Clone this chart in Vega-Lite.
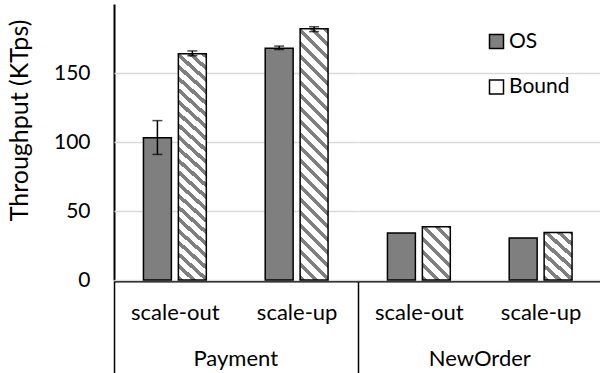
{
  "$schema": "https://vega.github.io/schema/vega-lite/v6.json",
  "padding": {"left": 7, "top": 4, "right": 0, "bottom": 0},
  "data": {
    "values": [
      {"group": "Payment", "sub": "scale-out", "series": "OS", "v": 103, "lo": 91, "hi": 115.5},
      {"group": "Payment", "sub": "scale-out", "series": "Bound", "v": 164, "lo": 162.5, "hi": 166},
      {"group": "Payment", "sub": "scale-up", "series": "OS", "v": 168, "lo": 167, "hi": 169.5},
      {"group": "Payment", "sub": "scale-up", "series": "Bound", "v": 182, "lo": 180, "hi": 183.5},
      {"group": "NewOrder", "sub": "scale-out", "series": "OS", "v": 34},
      {"group": "NewOrder", "sub": "scale-out", "series": "Bound", "v": 38.5},
      {"group": "NewOrder", "sub": "scale-up", "series": "OS", "v": 30.5},
      {"group": "NewOrder", "sub": "scale-up", "series": "Bound", "v": 34.5}
    ]
  },
  "facet": {
    "column": {
      "field": "group",
      "type": "nominal",
      "sort": ["Payment", "NewOrder"],
      "header": {
        "title": null,
        "labelOrient": "bottom",
        "labelFont": "Lato",
        "labelFontSize": 22,
        "labelColor": "black",
        "labelPadding": -25
      }
    }
  },
  "spacing": 0,
  "spec": {
    "width": 243.5,
    "height": 276,
    "encoding": {
      "x": {
        "field": "sub",
        "type": "nominal",
        "sort": ["scale-out", "scale-up"],
        "scale": {"paddingInner": 0, "paddingOuter": 0},
        "axis": {
          "title": null,
          "labelAngle": 0,
          "labelFontSize": 22,
          "domainColor": "black",
          "domainWidth": 2,
          "ticks": true,
          "tickBand": "extent",
          "tickSize": 92,
          "tickColor": "black",
          "tickWidth": 1.5,
          "tickOpacity": {"condition": {"test": "datum.value === 'scale-out' || datum.value === 'scale-up'", "value": 0}, "value": 1},
          "labelPadding": -71
        }
      },
      "xOffset": {
        "field": "series",
        "type": "nominal",
        "sort": ["OS", "Bound"],
        "scale": {"paddingInner": 0.2, "paddingOuter": 0.843}
      }
    },
    "layer": [
      {
        "mark": {"type": "bar", "stroke": "black", "strokeWidth": 1.5},
        "encoding": {
          "y": {
            "field": "v",
            "type": "quantitative",
            "title": "Throughput (KTps)",
            "scale": {"domain": [0, 190]},
            "axis": {
              "values": [0, 50, 100, 150],
              "grid": true,
              "gridColor": "#d9d9d9",
              "gridWidth": 1.3,
              "domainColor": "black",
              "domainWidth": 2,
              "ticks": false,
              "labelFontSize": 21,
              "labelPadding": 24,
              "titleFontSize": 25,
              "titlePadding": 21,
              "titleY": 116
            }
          },
          "fill": {
            "field": "series",
            "type": "nominal",
            "scale": {"domain": ["OS", "Bound"], "range": ["#7f7f7f", "#ffffff"]},
            "condition": [
              {
                "test": "datum.series === 'Bound' && datum.v > 100",
                "value": {
                  "gradient": "linear", "x1": 0, "y1": 1, "x2": 0.1225, "y2": -0.0979,
                  "stops": [
                    {"offset": 0, "color": "#7f7f7f"}, {"offset": 0.0197, "color": "#7f7f7f"}, {"offset": 0.0197, "color": "#ffffff"}, {"offset": 0.0466, "color": "#ffffff"},
                    {"offset": 0.0466, "color": "#7f7f7f"}, {"offset": 0.0663, "color": "#7f7f7f"}, {"offset": 0.0663, "color": "#ffffff"}, {"offset": 0.0932, "color": "#ffffff"},
                    {"offset": 0.0932, "color": "#7f7f7f"}, {"offset": 0.1129, "color": "#7f7f7f"}, {"offset": 0.1129, "color": "#ffffff"}, {"offset": 0.1398, "color": "#ffffff"},
                    {"offset": 0.1398, "color": "#7f7f7f"}, {"offset": 0.1595, "color": "#7f7f7f"}, {"offset": 0.1595, "color": "#ffffff"}, {"offset": 0.1864, "color": "#ffffff"},
                    {"offset": 0.1864, "color": "#7f7f7f"}, {"offset": 0.2061, "color": "#7f7f7f"}, {"offset": 0.2061, "color": "#ffffff"}, {"offset": 0.2330, "color": "#ffffff"},
                    {"offset": 0.2330, "color": "#7f7f7f"}, {"offset": 0.2527, "color": "#7f7f7f"}, {"offset": 0.2527, "color": "#ffffff"}, {"offset": 0.2796, "color": "#ffffff"},
                    {"offset": 0.2796, "color": "#7f7f7f"}, {"offset": 0.2993, "color": "#7f7f7f"}, {"offset": 0.2993, "color": "#ffffff"}, {"offset": 0.3262, "color": "#ffffff"},
                    {"offset": 0.3262, "color": "#7f7f7f"}, {"offset": 0.3459, "color": "#7f7f7f"}, {"offset": 0.3459, "color": "#ffffff"}, {"offset": 0.3728, "color": "#ffffff"},
                    {"offset": 0.3728, "color": "#7f7f7f"}, {"offset": 0.3925, "color": "#7f7f7f"}, {"offset": 0.3925, "color": "#ffffff"}, {"offset": 0.4194, "color": "#ffffff"},
                    {"offset": 0.4194, "color": "#7f7f7f"}, {"offset": 0.4391, "color": "#7f7f7f"}, {"offset": 0.4391, "color": "#ffffff"}, {"offset": 0.4660, "color": "#ffffff"},
                    {"offset": 0.4660, "color": "#7f7f7f"}, {"offset": 0.4857, "color": "#7f7f7f"}, {"offset": 0.4857, "color": "#ffffff"}, {"offset": 0.5125, "color": "#ffffff"},
                    {"offset": 0.5125, "color": "#7f7f7f"}, {"offset": 0.5323, "color": "#7f7f7f"}, {"offset": 0.5323, "color": "#ffffff"}, {"offset": 0.5591, "color": "#ffffff"},
                    {"offset": 0.5591, "color": "#7f7f7f"}, {"offset": 0.5789, "color": "#7f7f7f"}, {"offset": 0.5789, "color": "#ffffff"}, {"offset": 0.6057, "color": "#ffffff"},
                    {"offset": 0.6057, "color": "#7f7f7f"}, {"offset": 0.6254, "color": "#7f7f7f"}, {"offset": 0.6254, "color": "#ffffff"}, {"offset": 0.6523, "color": "#ffffff"},
                    {"offset": 0.6523, "color": "#7f7f7f"}, {"offset": 0.6720, "color": "#7f7f7f"}, {"offset": 0.6720, "color": "#ffffff"}, {"offset": 0.6989, "color": "#ffffff"},
                    {"offset": 0.6989, "color": "#7f7f7f"}, {"offset": 0.7186, "color": "#7f7f7f"}, {"offset": 0.7186, "color": "#ffffff"}, {"offset": 0.7455, "color": "#ffffff"},
                    {"offset": 0.7455, "color": "#7f7f7f"}, {"offset": 0.7652, "color": "#7f7f7f"}, {"offset": 0.7652, "color": "#ffffff"}, {"offset": 0.7921, "color": "#ffffff"},
                    {"offset": 0.7921, "color": "#7f7f7f"}, {"offset": 0.8118, "color": "#7f7f7f"}, {"offset": 0.8118, "color": "#ffffff"}, {"offset": 0.8387, "color": "#ffffff"},
                    {"offset": 0.8387, "color": "#7f7f7f"}, {"offset": 0.8584, "color": "#7f7f7f"}, {"offset": 0.8584, "color": "#ffffff"}, {"offset": 0.8853, "color": "#ffffff"},
                    {"offset": 0.8853, "color": "#7f7f7f"}, {"offset": 0.9050, "color": "#7f7f7f"}, {"offset": 0.9050, "color": "#ffffff"}, {"offset": 0.9319, "color": "#ffffff"},
                    {"offset": 0.9319, "color": "#7f7f7f"}, {"offset": 0.9516, "color": "#7f7f7f"}, {"offset": 0.9516, "color": "#ffffff"}, {"offset": 0.9785, "color": "#ffffff"},
                    {"offset": 0.9785, "color": "#7f7f7f"}, {"offset": 0.9982, "color": "#7f7f7f"}, {"offset": 0.9982, "color": "#ffffff"}, {"offset": 1, "color": "#ffffff"}
                  ]
                }
              },
              {
                "test": "datum.series === 'Bound'",
                "value": {
                  "gradient": "linear", "x1": 0, "y1": 1, "x2": 0.6312, "y2": -0.1948,
                  "stops": [
                    {"offset": 0, "color": "#7f7f7f"}, {"offset": 0.0679, "color": "#7f7f7f"}, {"offset": 0.0679, "color": "#ffffff"}, {"offset": 0.1605, "color": "#ffffff"},
                    {"offset": 0.1605, "color": "#7f7f7f"}, {"offset": 0.2284, "color": "#7f7f7f"}, {"offset": 0.2284, "color": "#ffffff"}, {"offset": 0.3210, "color": "#ffffff"},
                    {"offset": 0.3210, "color": "#7f7f7f"}, {"offset": 0.3889, "color": "#7f7f7f"}, {"offset": 0.3889, "color": "#ffffff"}, {"offset": 0.4815, "color": "#ffffff"},
                    {"offset": 0.4815, "color": "#7f7f7f"}, {"offset": 0.5494, "color": "#7f7f7f"}, {"offset": 0.5494, "color": "#ffffff"}, {"offset": 0.6420, "color": "#ffffff"},
                    {"offset": 0.6420, "color": "#7f7f7f"}, {"offset": 0.7099, "color": "#7f7f7f"}, {"offset": 0.7099, "color": "#ffffff"}, {"offset": 0.8025, "color": "#ffffff"},
                    {"offset": 0.8025, "color": "#7f7f7f"}, {"offset": 0.8704, "color": "#7f7f7f"}, {"offset": 0.8704, "color": "#ffffff"}, {"offset": 0.9630, "color": "#ffffff"},
                    {"offset": 0.9630, "color": "#7f7f7f"}, {"offset": 1, "color": "#7f7f7f"}
                  ]
                }
              }
            ],
            "legend": {
              "title": null,
              "orient": "none",
              "legendX": 372,
              "legendY": 27,
              "symbolType": "square",
              "symbolSize": 196,
              "symbolStrokeColor": "black",
              "symbolStrokeWidth": 1.5,
              "symbolOpacity": 1,
              "labelFont": "Lato",
              "labelFontSize": 21,
              "labelColor": "black",
              "labelOffset": 2,
              "rowPadding": 23.5,
              "encode": {
                "symbols": {
                  "update": {
                    "stroke": {"value": "black"},
                    "strokeWidth": {"value": 1.5},
                    "fill": [
                      {
                        "test": "datum.value === 'Bound'",
                        "value": {
                          "gradient": "linear", "x1": 0, "y1": 1, "x2": 1, "y2": 0,
                          "stops": [
                            {"offset": 0, "color": "#ffffff"}, {"offset": 0.32, "color": "#ffffff"}, {"offset": 0.32, "color": "#7f7f7f"},
                            {"offset": 0.62, "color": "#7f7f7f"}, {"offset": 0.62, "color": "#ffffff"}, {"offset": 1, "color": "#ffffff"}
                          ]
                        }
                      },
                      {"value": "#7f7f7f"}
                    ]
                  }
                }
              }
            }
          }
        }
      },
      {
        "transform": [{"filter": "isValid(datum.lo)"}],
        "mark": {"type": "rule", "color": "black", "strokeWidth": 1.5},
        "encoding": {
          "y": {"field": "lo", "type": "quantitative", "title": "Throughput (KTps)"},
          "y2": {"field": "hi"}
        }
      },
      {
        "transform": [{"filter": "isValid(datum.hi)"}],
        "mark": {"type": "tick", "orient": "horizontal", "size": 10, "thickness": 1.5, "color": "black"},
        "encoding": {
          "y": {"field": "hi", "type": "quantitative", "title": "Throughput (KTps)"}
        }
      },
      {
        "transform": [{"filter": "isValid(datum.lo)"}],
        "mark": {"type": "tick", "orient": "horizontal", "size": 10, "thickness": 1.5, "color": "black"},
        "encoding": {
          "y": {"field": "lo", "type": "quantitative", "title": "Throughput (KTps)"}
        }
      }
    ]
  },
  "config": {
    "font": "Lato",
    "view": {"stroke": null},
    "axis": {
      "labelFont": "Lato",
      "titleFont": "Lato",
      "labelFontSize": 20,
      "titleFontSize": 20,
      "titleFontWeight": "normal",
      "labelColor": "black",
      "titleColor": "black"
    }
  }
}
